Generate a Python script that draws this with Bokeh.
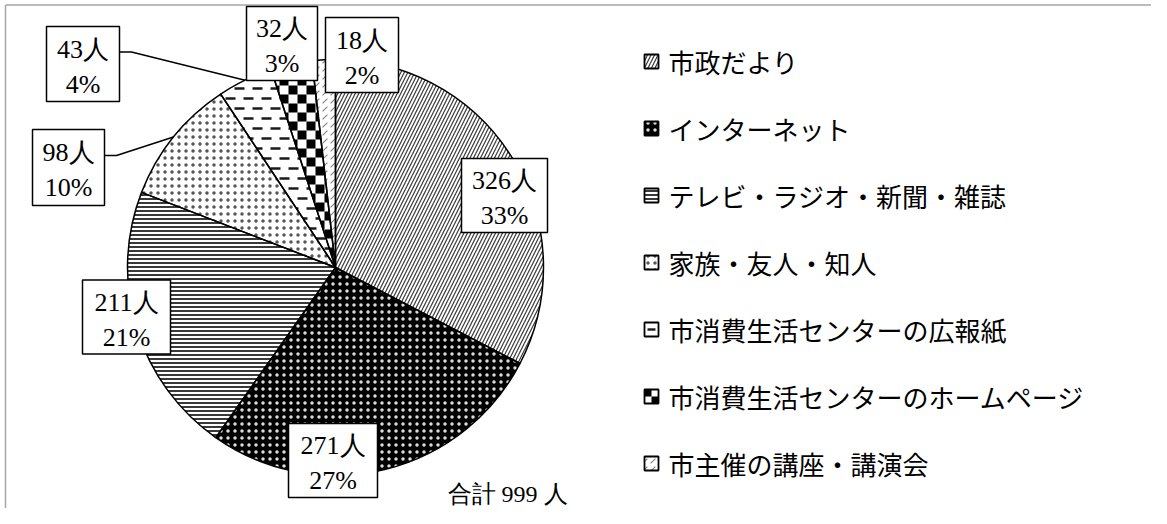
import math
from bokeh.plotting import figure
from bokeh.models import Range1d
from bokeh.core.properties import value
from bokeh.embed import file_html
from bokeh.resources import INLINE

# ---------------- data ----------------
categories = [
    "市政だより",
    "インターネット",
    "テレビ・ラジオ・新聞・雑誌",
    "家族・友人・知人",
    "市消費生活センターの広報紙",
    "市消費生活センターのホームページ",
    "市主催の講座・講演会",
]
counts = [326, 271, 211, 98, 43, 32, 18]
unit = "人"
total_prefix = "合計"

# ---------------- layout (picture pixel coords, y downward) ----------------
W, H = 1151, 508
CX, CY, R = 335, 267, 208
# label boxes: center x, center y, width, height
LABEL_BOX = [
    (504, 195, 86, 74),
    (332.5, 460, 89, 74),
    (126, 316.5, 88, 74),
    (68, 167, 72, 76),
    (82.5, 63.5, 73, 75),
    (281.5, 43, 71, 74),
    (361.5, 54.5, 73, 75),
]
LEADER_IDX = [3, 4]
LEG_X, LEG_Y0, LEG_DY = 651, 61, 67
CHECKER_IDX = 5
DASH_IDX = 4


def Y(y):
    return H - y


STYLES = [
    dict(fill_color="white", hatch_pattern="right_diagonal_line", hatch_color="#3a3a3a", hatch_scale=7, hatch_weight=1.2),
    dict(fill_color="black", hatch_pattern="dot", hatch_color="#dddddd", hatch_scale=7, hatch_weight=1),
    dict(fill_color="white", hatch_pattern="horizontal_line", hatch_color="#222222", hatch_scale=4, hatch_weight=1.8),
    dict(fill_color="white", hatch_pattern="dot", hatch_color="#555555", hatch_scale=7, hatch_weight=1),
    dict(fill_color="white"),
    dict(fill_color="white"),
    dict(fill_color="white", hatch_pattern="right_diagonal_dash", hatch_color="#888888", hatch_scale=8, hatch_weight=1.2),
]


def clip_poly(subject, clip):
    """Sutherland-Hodgman clipping of subject against convex CCW polygon clip."""
    def inside(pt, a, b):
        return (b[0] - a[0]) * (pt[1] - a[1]) - (b[1] - a[1]) * (pt[0] - a[0]) >= 0

    def inter(p1, p2, a, b):
        x1, y1 = p1; x2, y2 = p2; x3, y3 = a; x4, y4 = b
        den = (x1 - x2) * (y3 - y4) - (y1 - y2) * (x3 - x4)
        t = ((x1 - x3) * (y3 - y4) - (y1 - y3) * (x3 - x4)) / den
        return (x1 + t * (x2 - x1), y1 + t * (y2 - y1))

    out = list(subject)
    n = len(clip)
    for k in range(n):
        a, b = clip[k], clip[(k + 1) % n]
        inp, out = out, []
        if not inp:
            break
        s = inp[-1]
        for e in inp:
            if inside(e, a, b):
                if not inside(s, a, b):
                    out.append(inter(s, e, a, b))
                out.append(e)
            elif inside(s, a, b):
                out.append(inter(s, e, a, b))
            s = e
    return out


def clip_rects(poly, rects):
    pxs, pys = [], []
    for (x0, y0, x1, y1) in rects:
        sq = [(x0, y0), (x1, y0), (x1, y1), (x0, y1)]
        c = clip_poly(sq, poly)
        if len(c) >= 3:
            pxs.append([q[0] for q in c])
            pys.append([q[1] for q in c])
    return pxs, pys


def bbox_idx(poly, sx, sy):
    xs_all = [q[0] for q in poly]
    ys_all = [q[1] for q in poly]
    return (int(math.floor(min(xs_all) / sx)) - 1, int(math.ceil(max(xs_all) / sx)) + 1,
            int(math.floor(min(ys_all) / sy)) - 1, int(math.ceil(max(ys_all) / sy)) + 1)


def checker_patches(poly, size):
    i0, i1, j0, j1 = bbox_idx(poly, size, size)
    rects = [(i * size, j * size, (i + 1) * size, (j + 1) * size)
             for i in range(i0, i1) for j in range(j0, j1) if (i + j) % 2 == 0]
    return clip_rects(poly, rects)


def dash_patches(poly, period, length, row, thick):
    i0, i1, j0, j1 = bbox_idx(poly, period, row)
    rects = []
    for j in range(j0, j1):
        off = (j % 2) * period / 2
        for i in range(i0, i1):
            x0 = i * period + off
            rects.append((x0, j * row - thick / 2, x0 + length, j * row + thick / 2))
    return clip_rects(poly, rects)


def wedge_poly(a0, a1, n_arc=60):
    pts = [(CX, Y(CY))]
    for k in range(n_arc + 1):
        a = a1 + (a0 - a1) * k / n_arc
        pts.append((CX + R * math.cos(a), Y(CY) + R * math.sin(a)))
    return pts


p = figure(width=W, height=H, output_backend="svg", toolbar_location=None,
           x_range=Range1d(0, W), y_range=Range1d(0, H),
           x_axis_location=None, y_axis_location=None, min_border=0,
           background_fill_color="white", border_fill_color="white")
p.outline_line_color = None
p.xgrid.visible = False
p.ygrid.visible = False

# gray frame (top & left)
p.line([5, W], [Y(4.5), Y(4.5)], line_color="#a6a6a6", line_width=1.5)
p.line([5, 5], [Y(4.5), Y(H)], line_color="#a6a6a6", line_width=1.5)

total = sum(counts)
cum = 0
angles = []
for i, c in enumerate(counts):
    a0 = math.pi / 2 - 2 * math.pi * cum / total
    cum += c
    a1 = math.pi / 2 - 2 * math.pi * cum / total
    angles.append((a0, a1))
    p.wedge(x=CX, y=Y(CY), radius=R, start_angle=a0, end_angle=a1, direction="clock",
            line_color=None, **STYLES[i])

# checkerboard slice
cxs, cys = checker_patches(wedge_poly(*angles[CHECKER_IDX]), 9)
p.patches(cxs, cys, fill_color="black", line_color=None)

# staggered dash slice
dxs, dys = dash_patches(wedge_poly(*angles[DASH_IDX]), 18, 10, 10, 2.6)
p.patches(dxs, dys, fill_color="#1a1a1a", line_color=None)

# slice outlines
for a0, a1 in angles:
    p.wedge(x=CX, y=Y(CY), radius=R, start_angle=a0, end_angle=a1, direction="clock",
            fill_color=None, line_color="black", line_width=1.5)

# leader lines
for i in LEADER_IDX:
    bx, by, bw, bh = LABEL_BOX[i]
    a0, a1 = angles[i]
    mid = (a0 + a1) / 2
    ex = bx + bw / 2
    ey = by - 12
    px = CX + R * math.cos(mid)
    py = Y(CY) + R * math.sin(mid)
    p.line([ex, ex + 12, px], [Y(ey), Y(ey), py], line_color="black", line_width=1.5)

# data labels
for i, c in enumerate(counts):
    bx, by, bw, bh = LABEL_BOX[i]
    p.rect(x=bx, y=Y(by), width=bw, height=bh, fill_color="white", line_color="black", line_width=1.5)
    pct = f"{round(100 * c / total)}%"
    p.text(x=[bx, bx], y=[Y(by - 15), Y(by + 20)], text=[f"{c}{unit}", pct],
           text_align="center", text_baseline="middle",
           text_font=value("Liberation Serif"), text_font_size="26px", text_color="black")

# total
p.text(x=[507], y=[Y(493)], text=[f"{total_prefix} {total} {unit}"], text_align="center",
       text_baseline="middle", text_font=value("Liberation Serif"), text_font_size="24px",
       text_color="black")

# legend
MK = 14
for i, name in enumerate(categories):
    ly = LEG_Y0 + LEG_DY * i
    sq = [(LEG_X - MK / 2, Y(ly) - MK / 2), (LEG_X + MK / 2, Y(ly) - MK / 2),
          (LEG_X + MK / 2, Y(ly) + MK / 2), (LEG_X - MK / 2, Y(ly) + MK / 2)]
    p.rect(x=LEG_X, y=Y(ly), width=MK, height=MK, line_color=None, **STYLES[i])
    if i == CHECKER_IDX:
        mxs, mys = checker_patches(sq, 7)
        p.patches(mxs, mys, fill_color="black", line_color=None)
    if i == DASH_IDX:
        mxs, mys = clip_rects(sq, [(LEG_X - 4, Y(ly) - 1.2, LEG_X + 4, Y(ly) + 1.2)])
        p.patches(mxs, mys, fill_color="#1a1a1a", line_color=None)
    p.rect(x=LEG_X, y=Y(ly), width=MK, height=MK, fill_color=None, line_color="black", line_width=1.8)
    p.text(x=[LEG_X + 17], y=[Y(ly)], text=[name], text_align="left", text_baseline="middle",
           text_font=value("Noto Sans CJK JP"), text_font_size="26px", text_color="black")

open("out.html", "w").write(file_html(p, INLINE))
